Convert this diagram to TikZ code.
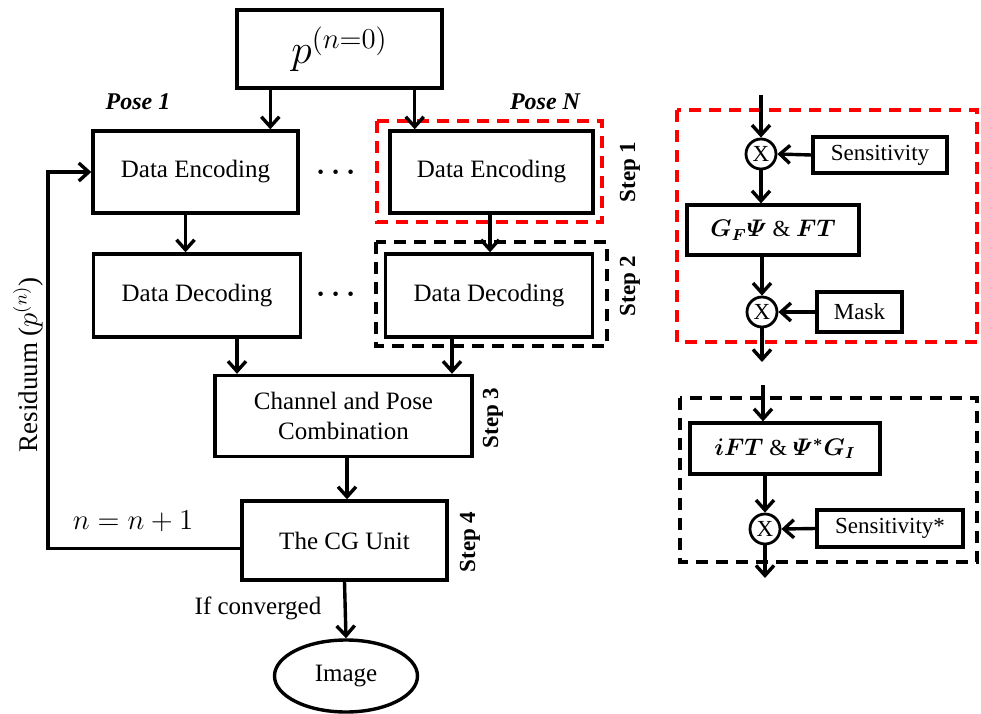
\documentclass[tikz,border=0pt]{standalone}
\usepackage{amsmath,bm}
\usepackage{fontspec}
\setmainfont{Liberation Serif}
\usetikzlibrary{arrows.meta,shapes.geometric}
\begin{document}
\begin{tikzpicture}[x=0.5pt,y=-0.5pt,
  box/.style={draw, line width=1.7pt, inner sep=0pt, align=center, font=\fontsize{12.5}{15}\selectfont},
  rbox/.style={draw, line width=1.6pt, inner sep=0pt, align=center, font=\fontsize{11.5}{14}\selectfont},
  mult/.style={draw, circle, line width=1.4pt, inner sep=0pt, minimum size=15pt, font=\fontsize{11.5}{14}\selectfont},
  arr/.style={line width=1.7pt, -{Straight Barb[length=5pt,width=9pt,line width=1.7pt]}},
  reddash/.style={draw=red, line width=1.6pt, dash pattern=on 6pt off 4pt},
  blackdash/.style={draw=black, line width=1.6pt, dash pattern=on 6pt off 4pt},
  steplabel/.style={rotate=90, font=\bfseries\fontsize{11.5}{14}\selectfont},
  poselabel/.style={font=\bfseries\itshape\fontsize{12}{14}\selectfont},
  lbl/.style={font=\fontsize{12.5}{15}\selectfont}
]
\useasboundingbox (0,0) rectangle (981,713);

% ---------- left diagram ----------
\node[box, minimum width=102.5pt, minimum height=39pt] (top) at (339.5,49) {\fontsize{21}{24}\selectfont $p^{(n=0)}$};

\node[poselabel] (pose1) at (138,102) {Pose 1};
\node[poselabel] (poseN) at (545,102) {Pose N};

\node[box, minimum width=102.5pt, minimum height=41pt] (de1) at (195.5,172) {Data Encoding};
\node[box, minimum width=101.5pt, minimum height=41pt] (de2) at (491.5,172) {Data Encoding};
\node[box, minimum width=103.5pt, minimum height=41.5pt] (dd1) at (197,295.5) {Data Decoding};
\node[box, minimum width=103.5pt, minimum height=41.5pt] (dd2) at (489,295.5) {Data Decoding};

\node[font=\fontsize{15}{15}\selectfont] (dots1) at (339,173) {$\bm{\cdots}$};
\node[font=\fontsize{15}{15}\selectfont] (dots2) at (339,295) {$\bm{\cdots}$};

\draw[reddash] (377,121) rectangle (602,222);
\draw[blackdash] (376,242) rectangle (607,346);

\node[steplabel] (s1) at (630,172) {Step 1};
\node[steplabel] (s2) at (630,286) {Step 2};

\node[box, minimum width=128.5pt, minimum height=40.5pt] (chan) at (343.5,416) {Channel and Pose\\Combination};
\node[steplabel] (s3) at (493,418) {Step 3};

\node[box, minimum width=102.5pt, minimum height=39.5pt] (cg) at (344.5,540.5) {The CG Unit};
\node[steplabel] (s4) at (470,542) {Step 4};

\node[draw, ellipse, line width=1.7pt, minimum width=71.5pt, minimum height=36pt, inner sep=0pt, font=\fontsize{12.5}{15}\selectfont] (img) at (346,676) {Image};

\node[lbl] (conv) at (258,608) {If converged};
\node[lbl, font=\fontsize{13.5}{15}\selectfont] (ninc) at (133,521) {$n=n+1$};
\node[lbl, rotate=90, font=\fontsize{13.5}{15}\selectfont] (resid) at (28,365) {Residuum ($p^{(n)}$)};

% arrows
\draw[arr] ([xshift=17.5pt]top.south west) coordinate (ta) -- (ta |- de1.north);
\draw[arr] ([xshift=-14.5pt]top.south east) coordinate (tb) -- (tb |- de2.north);
\draw[arr] ([xshift=-5pt]de1.south) coordinate (da) -- (da |- dd1.north);
\draw[arr] ([xshift=-0.75pt]de2.south) coordinate (db) -- (db |- dd2.north);
\draw[arr] ([xshift=20pt]dd1.south) coordinate (dc) -- (dc |- chan.north);
\draw[arr] ([xshift=-18.5pt]dd2.south) coordinate (dd) -- (dd |- chan.north);
\draw[arr] ([xshift=1.75pt]chan.south) coordinate (ca) -- (ca |- cg.north);
\draw[arr] (cg.south) -- (img.north);
\coordinate (loopx) at (48,400);
\draw[arr] ([yshift=-4pt]cg.west) coordinate (cw) -- (cw -| loopx) |- (de1.west);

% ---------- right panel ----------
\draw[reddash] (677,110) rectangle (977,342);
\draw[blackdash] (680,398) rectangle (977,562);

\node[mult] (m1) at (761,154) {X};
\node[rbox, minimum width=67pt, minimum height=18pt] (sens) at (880,155) {Sensitivity};
\node[rbox, minimum width=86pt, minimum height=25pt] (gf) at (773,230) {$\bm{G_F\varPsi}$ \& $\bm{FT}$};
\node[mult] (m2) at (762,312) {X};
\node[rbox, minimum width=42.5pt, minimum height=20pt] (mask) at (859.5,312) {Mask};
\node[rbox, minimum width=95pt, minimum height=25.5pt] (ift) at (785,448.5) {$\bm{iFT}$ \& $\bm{\varPsi^{*}G_I}$};
\node[mult] (m3) at (765,529) {X};
\node[rbox, minimum width=73pt, minimum height=18.5pt] (sens2) at (890,528.5) {Sensitivity*};

\coordinate (in1) at (761,95);
\coordinate (out1) at (762,362);
\coordinate (in2) at (763,385);
\coordinate (out2) at (765,578);

\draw[arr] (in1) -- (m1.north);
\draw[arr] (sens.west) -- (m1.east);
\draw[arr] (m1.south) -- (m1.south |- gf.north);
\draw[arr] (m2 |- gf.south) -- (m2.north);
\draw[arr] (mask.west) -- (m2.east);
\draw[arr] (m2.south) -- (out1);
\draw[arr] (in2) -- (in2 |- ift.north);
\draw[arr] (m3 |- ift.south) -- (m3.north);
\draw[arr] (sens2.west) -- (m3.east);
\draw[arr] (m3.south) -- (out2);
\end{tikzpicture}
\end{document}
